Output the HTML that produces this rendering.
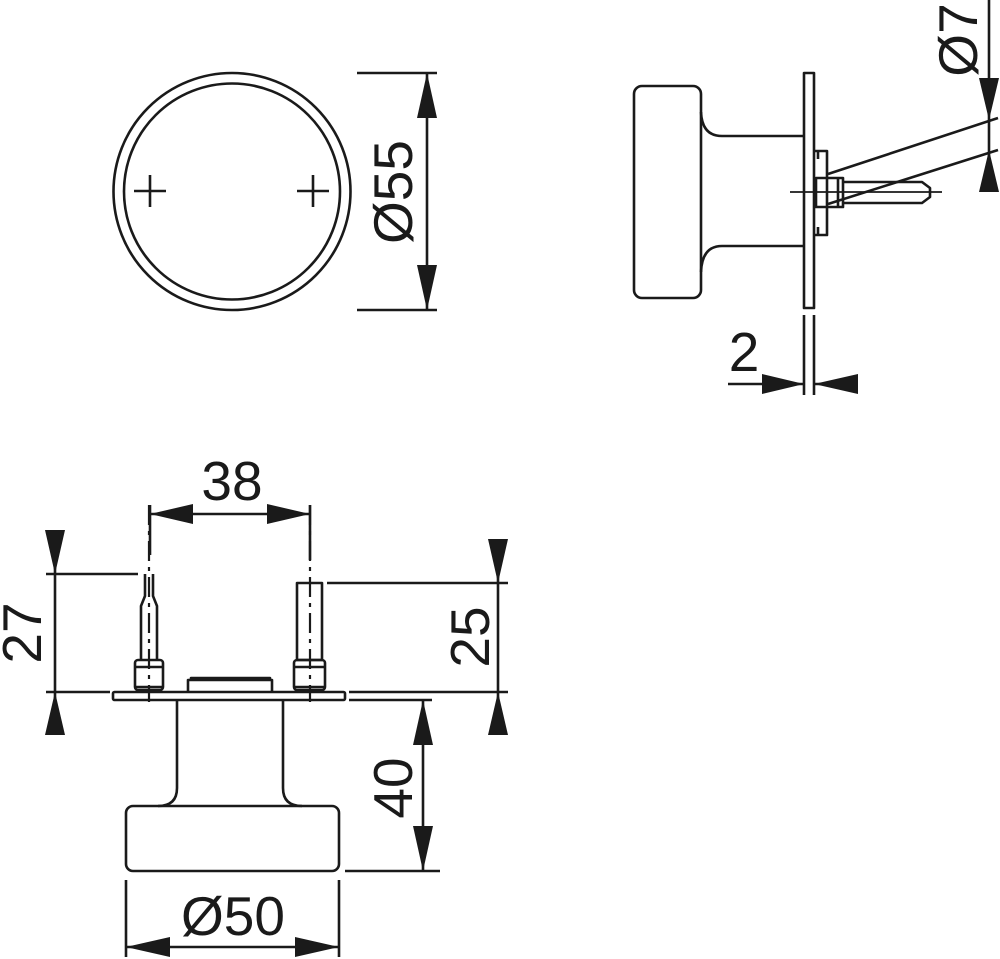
<!DOCTYPE html>
<html><head><meta charset="utf-8"><style>
html,body{margin:0;padding:0;background:#fff;}
svg{display:block;}
text{font-family:"Liberation Sans",sans-serif;font-size:55px;fill:#1a1a1a;}
</style></head><body>
<svg width="1000" height="959" viewBox="0 0 1000 959" xmlns="http://www.w3.org/2000/svg">
<g fill="none" stroke="#1a1a1a" stroke-width="2.6" stroke-linejoin="round">
<circle cx="232" cy="191.5" r="118.5"/>
<circle cx="232" cy="191.5" r="108"/>
<path d="M134 191h32M150 175v32M297 191h32M313 175v32"/>
<path d="M357 73H437M357 310H437M427 73V310"/>
<rect x="634" y="86" width="67" height="212" rx="8"/>
<path d="M701 112 Q702 136 722 136 H804 M701 272 Q702 246 722 246 H804"/>
<rect x="804" y="73" width="10" height="235"/>
<path d="M814 151 H827 V235 H814 M818 151 V159 M818 227 V235"/>
<rect x="816" y="178" width="27" height="29"/>
<path d="M838 178 V207 M843 182 H922 L930 188 V197 L922 203 H843"/>
<path d="M790 192 H942" stroke-width="1.8"/>
<path d="M828 174 L998 118 M828 204 L998 150"/>
<path d="M989 0 V192"/>
<path d="M804 315 V395 M814 315 V395 M728 384 H804 M814 384 H858"/>
<rect x="113" y="692" width="232" height="8" rx="1.5"/>
<path d="M188 692 V680 H272 V692 M191 680 V678 H270 V680"/>
<path d="M145 574 V596 L141 606 V660 M153 574 V596 L157 606 V660"/>
<rect x="135" y="660" width="28" height="30" rx="3"/>
<path d="M135 667 H163 M135 687 H163"/>
<rect x="297" y="583" width="25" height="77"/>
<rect x="294" y="660" width="31" height="30" rx="3"/>
<path d="M294 667 H325 M294 687 H325"/>
<path d="M149 505 V702 M310 505 V702" stroke-width="2.2" stroke-dasharray="20 6 4 6"/>
<path d="M177 700 V788 Q177 806 158 806 M283 700 V788 Q283 806 302 806"/>
<rect x="126" y="806" width="213" height="65" rx="7"/>
<path d="M150 505 V555 M310 505 V560 M150 514 H310"/>
<path d="M46 574 H138 M46 692 H110 M55 530 V735"/>
<path d="M327 583 H508 M349 692 H508 M498 539 V735"/>
<path d="M349 700 H432 M345 871 H440 M423 700 V871"/>
<path d="M126 880 V957 M339 880 V957 M126 947 H339"/>
</g>
<g fill="#1a1a1a" stroke="none">
<polygon points="427,73 417,118 437,118"/>
<polygon points="427,310 417,265 437,265"/>
<polygon points="989,120 979,78 999,78"/>
<polygon points="989,150 979,192 999,192"/>
<polygon points="804,384 762,374 762,394"/>
<polygon points="814,384 858,374 858,394"/>
<polygon points="150,514 193,504 193,524"/>
<polygon points="310,514 267,504 267,524"/>
<polygon points="55,574 45,530 65,530"/>
<polygon points="55,692 45,735 65,735"/>
<polygon points="498,583 488,539 508,539"/>
<polygon points="498,692 488,735 508,735"/>
<polygon points="423,700 413,745 433,745"/>
<polygon points="423,871 413,826 433,826"/>
<polygon points="126,947 170,937 170,957"/>
<polygon points="339,947 295,937 295,957"/>
</g>
<text x="232" y="500" text-anchor="middle">38</text>
<text x="233" y="935" text-anchor="middle">Ø50</text>
<text x="744" y="371" text-anchor="middle">2</text>
<text transform="translate(412,192) rotate(-90)" text-anchor="middle">Ø55</text>
<text transform="translate(977,40) rotate(-90)" text-anchor="middle">Ø7</text>
<text transform="translate(41,633) rotate(-90)" text-anchor="middle">27</text>
<text transform="translate(489,637) rotate(-90)" text-anchor="middle">25</text>
<text transform="translate(412,788) rotate(-90)" text-anchor="middle">40</text>
</svg>
</body></html>
